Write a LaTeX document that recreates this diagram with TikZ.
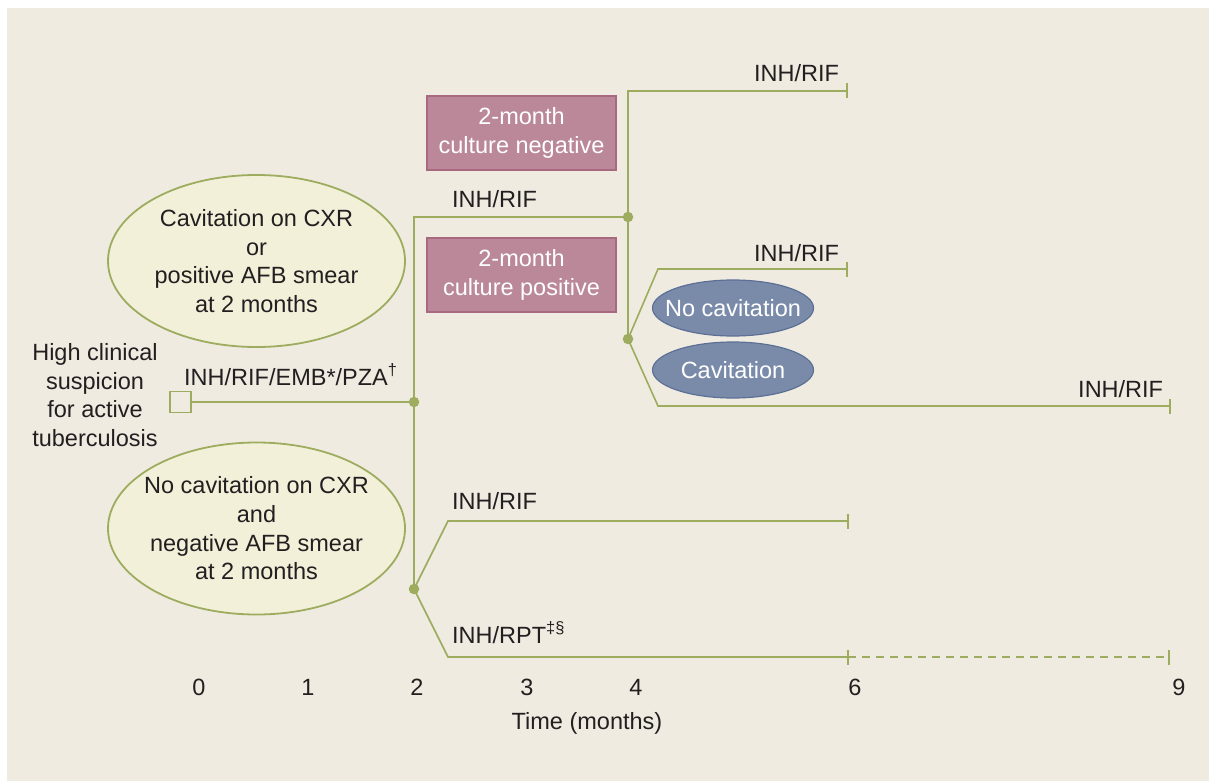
\documentclass[tikz,border=0pt]{standalone}
\usepackage{fontspec}
\setmainfont{Liberation Sans}
\usetikzlibrary{shapes.geometric}
\definecolor{bg}{RGB}{240,235,225}
\definecolor{lg}{RGB}{157,172,94}
\definecolor{ellfill}{RGB}{243,240,218}
\definecolor{pinkfill}{RGB}{186,136,152}
\definecolor{pinkline}{RGB}{168,104,128}
\definecolor{bluefill}{RGB}{122,139,170}
\definecolor{blueline}{RGB}{92,112,150}
\definecolor{txt}{RGB}{35,31,32}
\tikzset{
  line/.style={draw=lg, line width=1.6pt},
  dot/.style={circle, fill=lg, inner sep=0pt, minimum size=10.5pt},
  lbl/.style={text=txt, inner sep=0pt, font=\fontsize{23.5}{28.7}\selectfont},
  bigell/.style={ellipse, draw=lg, line width=1.8pt, fill=ellfill, minimum width=297pt, minimum height=172pt, inner sep=0pt},
  pinkbox/.style={rectangle, draw=pinkline, line width=1.2pt, fill=pinkfill, minimum width=189pt, minimum height=74pt, inner sep=0pt},
  blueell/.style={ellipse, draw=blueline, line width=1.2pt, fill=bluefill, minimum width=161pt, minimum height=56pt, inner sep=0pt},
  wlbl/.style={text=white, inner sep=0pt, align=center, font=\fontsize{23.5}{28.7}\selectfont},
  tickmark/.style={draw=lg, line width=1.6pt}
}
\begin{document}
\begin{tikzpicture}[x=1pt,y=-1pt]
\useasboundingbox (0,0) rectangle (1209,781);
\fill[white] (0,0) rectangle (1209,781);
\fill[bg] (7,8) rectangle (1209,781);

% coordinates
\coordinate (c1) at (414,217);
\coordinate (c2) at (628,91);
\coordinate (e1) at (847,91);
\coordinate (c3) at (658,269);
\coordinate (e2) at (847,269);
\coordinate (c4) at (658,406);
\coordinate (e3) at (1170,406);
\coordinate (c5) at (448,521);
\coordinate (e4) at (848,521);
\coordinate (c6) at (448,657);
\coordinate (e5) at (848,657);
\coordinate (e6) at (1169,657);

% ellipses
\node[bigell] (ell1) at (256.5,261) {};
\node[wlbl, text=txt] (ell1t) at (ell1.center) {Cavitation on CXR\\or\\positive AFB smear\\at 2 months};
\node[bigell] (ell2) at (256.5,528.5) {};
\node[wlbl, text=txt] (ell2t) at (ell2.center) {No cavitation on CXR\\and\\negative AFB smear\\at 2 months};

% pink boxes
\node[pinkbox] (neg) at (521.5,133) {};
\node[wlbl] (negt) at (neg.center) {2-month\\culture negative};
\node[pinkbox] (pos) at (521.5,275) {};
\node[wlbl] (post) at (pos.center) {2-month\\culture positive};

% blue ellipses
\node[blueell] (nocav) at (733,308) {};
\node[wlbl] (nocavt) at (nocav.center) {No cavitation};
\node[blueell] (cav) at (733,370) {};
\node[wlbl] (cavt) at (cav.center) {Cavitation};

% start square and dots
\node[rectangle, draw=lg, line width=1.6pt, minimum size=21pt, inner sep=0pt] (sq) at (180.5,402) {};
\node[dot] (d1) at (414,402) {};
\node[dot] (d2) at (628,217) {};
\node[dot] (d3) at (628,339) {};
\node[dot] (d4) at (414,589) {};

% connectors
\draw[line] (sq.east) -- (d1.center);
\draw[line] (d4.center) -- (c1) -- (d2.center);
\draw[line] (d3.center) -- (c2) -- (e1);
\draw[line] (d3.center) -- (c3) -- (e2);
\draw[line] (d3.center) -- (c4) -- (e3);
\draw[line] (d4.center) -- (c5) -- (e4);
\draw[line] (d4.center) -- (c6) -- (e5);
\draw[line, dashed, dash pattern=on 8pt off 6pt] (e5) -- (e6);

% end ticks
\foreach \p in {e1,e2,e3,e4,e5,e6}
  \draw[tickmark] ([yshift=-7.5pt]\p) -- ([yshift=7.5pt]\p);

% labels
\node[lbl, align=center] (hcs) at (95,395) {High clinical\\suspicion\\for active\\tuberculosis};
\node[lbl, anchor=base west] (l0) at (184,385) {INH/RIF/EMB*/PZA\textsuperscript{†}};
\node[lbl, anchor=base west] (l1) at (452,207) {INH/RIF};
\node[lbl, anchor=base west] (l2) at (754,82) {INH/RIF};
\node[lbl, anchor=base west] (l3) at (754,261) {INH/RIF};
\node[lbl, anchor=base west] (l4) at (1078,397) {INH/RIF};
\node[lbl, anchor=base west] (l5) at (452,509) {INH/RIF};
\node[lbl, anchor=base west] (l6) at (452,643) {INH/RPT\textsuperscript{‡§}};

% axis labels
\foreach \m/\x in {0/199,1/308,2/417,3/527,4/636,6/855,9/1179}
  \node[lbl, anchor=base] (m\m) at (\x,695) {\m};
\node[lbl, anchor=base] (tm) at (587,729) {Time (months)};
\end{tikzpicture}
\end{document}
